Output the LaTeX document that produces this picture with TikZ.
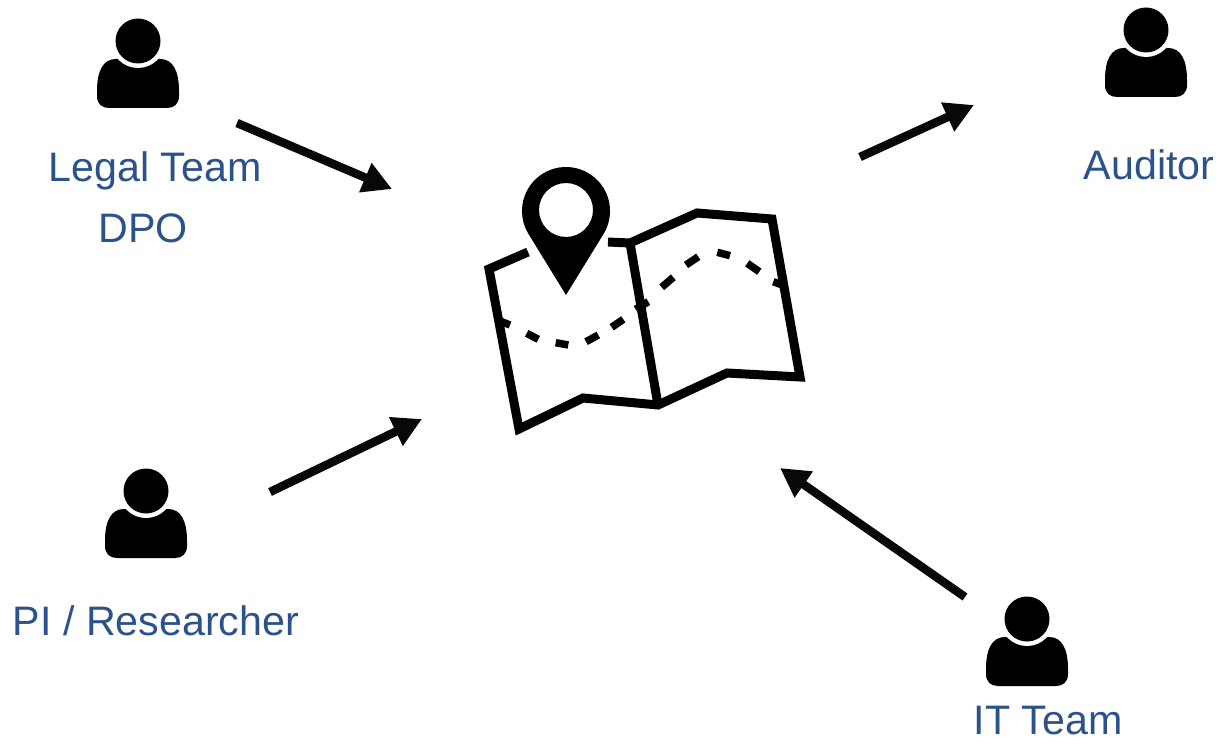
\documentclass[tikz,border=0pt]{standalone}
\usepackage{fontspec}
\setmainfont{Liberation Sans}
\usetikzlibrary{arrows.meta}
\definecolor{labelblue}{RGB}{44,82,140}
\definecolor{inkblack}{RGB}{8,8,8}
\tikzset{
  lbl/.style={text=labelblue,font=\fontsize{41.2}{50}\selectfont,inner sep=0pt,anchor=base},
  flow/.style={draw=inkblack,line width=8.5pt,-{Triangle[length=29pt,width=30pt]}},
  mapline/.style={draw=black,line width=9pt,line join=miter},
  person/.pic={
    \fill[black] (-41,50) .. controls (-41,30) and (-35,18) .. (-22,18) -- (22,18)
      .. controls (35,18) and (41,30) .. (41,50) -- (41,55)
      .. controls (41,63) and (36,67) .. (29,67) -- (-29,67)
      .. controls (-36,67) and (-41,63) .. (-41,55) -- cycle;
    \fill[white] (0,0) circle[radius=27];
    \fill[black] (0,0) circle[radius=22.5];
  }
}
\begin{document}
\begin{tikzpicture}[x=1pt,y=-1pt]
\useasboundingbox (0,0) rectangle (1219,741);
% people
\pic at (138,41) {person};
\pic at (1146,30) {person};
\pic at (146,491) {person};
\pic at (1027,619) {person};
% labels
\node[lbl] (legal) at (155,182) {Legal Team};
\node[lbl] (dpo) at (143,242) {DPO};
\node[lbl] (auditor) at (1149,179) {Auditor};
\node[lbl] (pi) at (156,635) {PI / Researcher};
\node[lbl] (it) at (1048,734) {IT Team};
% map
\draw[mapline] (528,252) -- (489,269) -- (519,429) -- (583,398) -- (658,405)
  -- (727,373) -- (800,377) -- (772,219) -- (697,213) -- (630,243) -- (608,242);
\draw[mapline] (630,243) -- (658,405);
\draw[black,line width=7.5pt]
  (501.7,321.7) -- (510,325)
  (526.7,333.3) -- (538.3,339.3)
  (555.7,342.7) -- (568.3,345)
  (586,341.7) -- (598.3,335)
  (611.7,327.3) -- (623.3,319.3)
  (635.7,309.3) -- (648.3,301.7)
  (661.7,287.3) -- (673.3,277.3)
  (686,265) -- (698.3,256.7)
  (717.3,252.3) -- (730,255.7)
  (747.3,263.3) -- (759.3,271.7)
  (773.3,281.7) -- (785,286);
% pin
\fill[black,even odd rule] (566,295) -- (528.5,234)
  arc[start angle=148.5,end angle=391.5,radius=44] -- cycle
  (566,210) circle[radius=27];
% connectors
\coordinate (a1) at (237,123); \coordinate (a2) at (392,189);
\coordinate (b1) at (860,157); \coordinate (b2) at (974,105);
\coordinate (c1) at (270,492); \coordinate (c2) at (422,419);
\coordinate (d1) at (965,597); \coordinate (d2) at (780,468);
\draw[flow] (a1) -- (a2);
\draw[flow] (b1) -- (b2);
\draw[flow] (c1) -- (c2);
\draw[flow] (d1) -- (d2);
\end{tikzpicture}
\end{document}
